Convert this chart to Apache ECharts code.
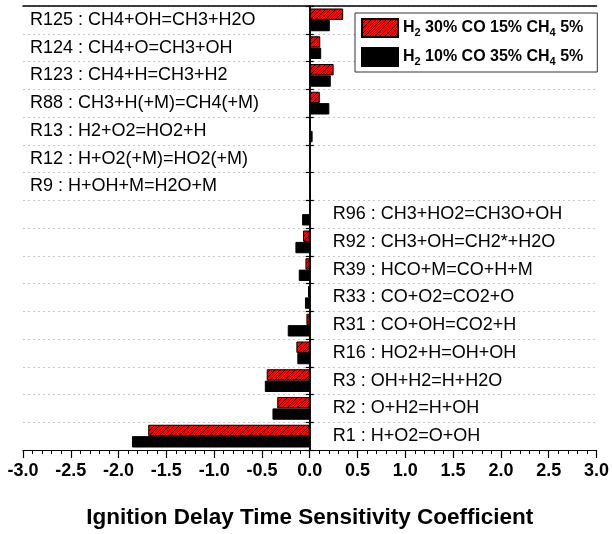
<!DOCTYPE html>
<html>
<head>
<meta charset="utf-8">
<script src="https://cdn.jsdelivr.net/npm/echarts@6/dist/echarts.min.js"></script>
<style>html,body{margin:0;padding:0;background:#fff}#c{width:612px;height:534px}</style>
</head>
<body>
<div id="c"></div>
<script>
// Reactions, listed top to bottom as in the figure
var reactions = [
  'R125 : CH4+OH=CH3+H2O',
  'R124 : CH4+O=CH3+OH',
  'R123 : CH4+H=CH3+H2',
  'R88 : CH3+H(+M)=CH4(+M)',
  'R13 : H2+O2=HO2+H',
  'R12 : H+O2(+M)=HO2(+M)',
  'R9 : H+OH+M=H2O+M',
  'R96 : CH3+HO2=CH3O+OH',
  'R92 : CH3+OH=CH2*+H2O',
  'R39 : HCO+M=CO+H+M',
  'R33 : CO+O2=CO2+O',
  'R31 : CO+OH=CO2+H',
  'R16 : HO2+H=OH+OH',
  'R3 : OH+H2=H+H2O',
  'R2 : O+H2=H+OH',
  'R1 : H+O2=O+OH'
];
var seriesNames = ['H2 30% CO 15% CH4 5%', 'H2 10% CO 35% CH4 5%'];
var mixA = [0.35, 0.11, 0.25, 0.105, 0.004, 0.003, 0.003, -0.004, -0.07, -0.045, -0.018, -0.035, -0.14, -0.45, -0.34, -1.69];
var mixB = [0.21, 0.12, 0.22, 0.205, 0.03, 0.012, 0.012, -0.08, -0.15, -0.115, -0.05, -0.23, -0.13, -0.47, -0.39, -1.86];
var xTicks = { min: -3.0, max: 3.0, step: 0.5 };
var axisTitle = 'Ignition Delay Time Sensitivity Coefficient';

// label side: reactions whose bars point right get labels on the left
var leftSide = reactions.map(function (r, i) { return Math.max(mixA[i], mixB[i]) > 0; });

// hatch pattern for the red series
var P = 5;
var pc = document.createElement('canvas');
pc.width = P; pc.height = P;
var g = pc.getContext('2d');
g.fillStyle = '#ff0000'; g.fillRect(0, 0, P, P);
g.fillStyle = '#3a0000';
for (var k = 0; k < P; k++) g.fillRect(k, P - 1 - k, 1, 1);
var hatch = { image: pc, repeat: 'repeat' };

var FONT = 'Liberation Sans, Arial, sans-serif';
var GRID = { left: 23, right: 14, top: 6, bottom: 79 };
var chart = echarts.init(document.getElementById('c'), null, { renderer: 'canvas' });
var catBase = { type: 'category', data: reactions, inverse: true };
var labelFont = { fontFamily: FONT, fontSize: 18, color: '#000' };

function buildOption(rightOffset) {
  return {
    animation: false,
    backgroundColor: '#fff',
    textStyle: { fontFamily: FONT },
    grid: Object.assign({ containLabel: false }, GRID),
    legend: {
      data: seriesNames,
      orient: 'vertical',
      left: 355, top: 13,
      icon: 'rect',
      itemWidth: 36, itemHeight: 18, itemGap: 8,
      padding: [4, 14, 5, 6],
      borderColor: '#333', borderWidth: 1, backgroundColor: '#fff',
      formatter: function (n) { return n.replace('H2 ', 'H{sub|2} ').replace('CH4', 'CH{sub|4}'); },
      textStyle: {
        fontFamily: FONT, fontSize: 16, fontWeight: 'bold', color: '#000', lineHeight: 20,
        rich: { sub: { fontFamily: FONT, fontSize: 11, fontWeight: 'bold', color: '#000', verticalAlign: 'bottom', lineHeight: 20, padding: [10, 0, 0, 0] } }
      }
    },
    xAxis: [{
      type: 'value', position: 'bottom',
      min: xTicks.min, max: xTicks.max, interval: xTicks.step,
      axisLine: { show: true, onZero: false, lineStyle: { color: '#000', width: 1.2 } },
      axisTick: { show: true, length: 8, lineStyle: { color: '#000', width: 1.2 } },
      minorTick: { show: true, splitNumber: 5, length: 4, lineStyle: { color: '#000', width: 1 } },
      splitLine: { show: false },
      axisLabel: { margin: 12, fontFamily: FONT, fontSize: 18, fontWeight: 'bold', color: '#000',
        formatter: function (v) { return v.toFixed(1); } },
      name: axisTitle, nameLocation: 'middle', nameGap: 56,
      nameTextStyle: { fontFamily: FONT, fontSize: 22.5, fontWeight: 'bold', color: '#000' }
    }, {
      type: 'value', position: 'top',
      min: xTicks.min, max: xTicks.max, interval: xTicks.step,
      axisLine: { show: true, onZero: false, lineStyle: { color: '#000', width: 1.5 } },
      axisTick: { show: false }, axisLabel: { show: false }, splitLine: { show: false }
    }],
    yAxis: [Object.assign({}, catBase, {
      // zero line with ticks pointing left, plus dotted row separators
      position: 'left',
      axisLine: { show: true, onZero: true, lineStyle: { color: '#000', width: 1.5 } },
      axisTick: { show: true, length: 4, lineStyle: { color: '#000', width: 1.2 } },
      splitLine: { show: true, lineStyle: { color: '#c8c8c8', type: [2, 3], width: 1 } },
      axisLabel: { show: false }
    }), Object.assign({}, catBase, {
      // zero line ticks pointing right
      position: 'right',
      axisLine: { show: true, onZero: true, lineStyle: { color: '#000', width: 1.5 } },
      axisTick: { show: true, length: 4, lineStyle: { color: '#000', width: 1.2 } },
      splitLine: { show: false }, axisLabel: { show: false }
    }), Object.assign({}, catBase, {
      // labels at the left edge
      position: 'left',
      axisLine: { show: false, onZero: false },
      axisTick: { show: false }, splitLine: { show: false },
      axisLabel: Object.assign({ inside: true, margin: 7,
        formatter: function (v, i) { return leftSide[i] ? v : ''; } }, labelFont)
    }), Object.assign({}, catBase, {
      // labels just right of the zero line
      position: 'left', offset: rightOffset,
      axisLine: { show: false, onZero: false },
      axisTick: { show: false }, splitLine: { show: false },
      axisLabel: Object.assign({ inside: true, margin: 23,
        formatter: function (v, i) { return leftSide[i] ? '' : v; } }, labelFont)
    })],
    series: [{
      name: seriesNames[0], type: 'bar', xAxisIndex: 0, yAxisIndex: 0,
      data: mixA, barCategoryGap: '18%', barGap: '0%',
      itemStyle: { color: hatch, borderColor: '#000', borderWidth: 1 }
    }, {
      name: seriesNames[1], type: 'bar', xAxisIndex: 0, yAxisIndex: 0,
      data: mixB, barCategoryGap: '18%', barGap: '0%',
      itemStyle: { color: '#000', borderColor: '#000', borderWidth: 1 }
    }]
  };
}
chart.setOption(buildOption(0));
var zeroX = chart.convertToPixel({ xAxisIndex: 0 }, 0);
chart.setOption(buildOption(-(zeroX - GRID.left)));
</script>
</body>
</html>
